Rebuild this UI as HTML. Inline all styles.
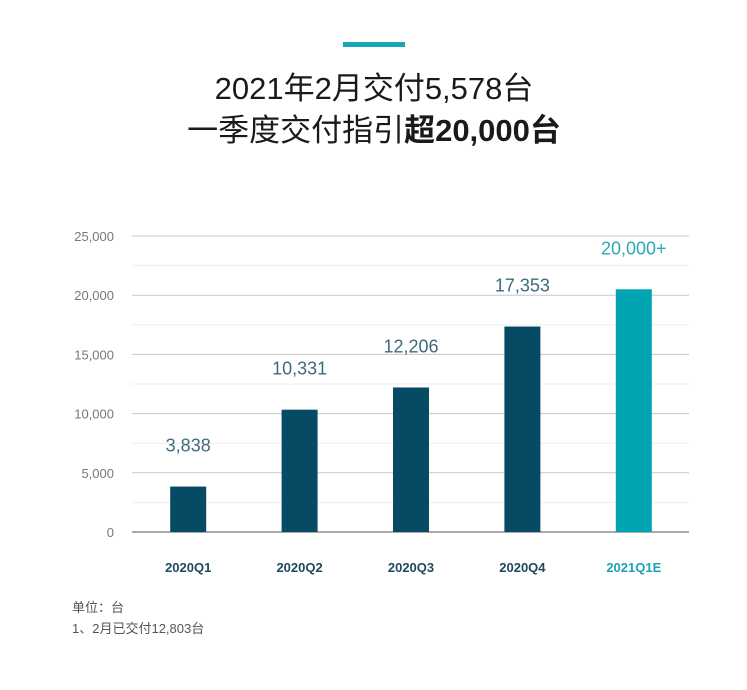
<!DOCTYPE html>
<html><head><meta charset="utf-8">
<style>
html,body{margin:0;padding:0;background:#fff;}
body{width:747px;height:685px;overflow:hidden;font-family:"Liberation Sans","Noto Sans CJK SC",sans-serif;}
</style></head>
<body>
<svg id="chart" width="747" height="685" xmlns="http://www.w3.org/2000/svg">
  <rect x="343" y="42" width="62" height="5" fill="#18a7b5"/>
  <text x="374" y="99" text-anchor="middle" font-size="31" fill="#1a1a1a" font-family="Liberation Sans, Noto Sans CJK SC, sans-serif">2021年2月交付5,578台</text>
  <text x="374" y="141" text-anchor="middle" font-size="31" fill="#1a1a1a" font-family="Liberation Sans, Noto Sans CJK SC, sans-serif">一季度交付指引<tspan font-weight="bold">超20,000台</tspan></text>
  <g id="grid"></g>
  <g id="bars"></g>
  <text x="72" y="612" font-size="13" fill="#555" font-family="Liberation Sans, Noto Sans CJK SC, sans-serif">单位：台</text>
  <text x="72" y="633" font-size="13" fill="#555" font-family="Liberation Sans, Noto Sans CJK SC, sans-serif">1、2月已交付12,803台</text>
</svg>
<script>
const categories = ["2020Q1","2020Q2","2020Q3","2020Q4","2021Q1E"];
const values = [3838, 10331, 12206, 17353, 20500];
const valueLabels = ["3,838","10,331","12,206","17,353","20,000+"];
const yTicks = [0, 5000, 10000, 15000, 20000, 25000];
const yTickLabels = ["0","5,000","10,000","15,000","20,000","25,000"];
const minorTicks = [2500, 7500, 12500, 17500, 22500];

const NS = "http://www.w3.org/2000/svg";
const x0 = 132, x1 = 689, y0 = 532, yMax = 25000, yTop = 236;
const y = v => y0 - (v / yMax) * (y0 - yTop);
const step = (x1 - x0) / categories.length;
const xc = i => x0 + step * (i + 0.5) + 0.5;
function mk(tag, attrs){const e=document.createElementNS(NS,tag);for(const k in attrs)e.setAttribute(k,attrs[k]);return e;}
const grid = document.getElementById('grid');
const bars = document.getElementById('bars');
minorTicks.forEach(t=>{
  const l = mk('line',{x1:x0,x2:x1,y1:y(t),y2:y(t),stroke:'#eeeeee','stroke-width':1});
  
  
  grid.appendChild(l);
});
yTicks.forEach((t,i)=>{
  const l = mk('line',{x1:x0,x2:x1,y1:y(t),y2:y(t),stroke:t===0?'#555':'#c8c8c8','stroke-width':1});
  
  
  grid.appendChild(l);
  const tx = mk('text',{x:114,y:y(t)+5,'text-anchor':'end','font-size':13,fill:'#777'});
  tx.textContent = yTickLabels[i];
  
  
  grid.appendChild(tx);
});
categories.forEach((c,i)=>{
  const last = i===categories.length-1;
  const col = last ? '#00a4b2' : '#064a64';
  const bw = 36;
  const r = mk('rect',{x:xc(i)-bw/2,y:y(values[i]),width:bw,height:y0-y(values[i]),fill:col});
  
  
  bars.appendChild(r);
  const vl = mk('text',{x:xc(i),y:y(values[i])-35,'text-anchor':'middle','font-size':18,fill:last?'#2aa9b5':'#3f6b7c'});
  vl.textContent = valueLabels[i];
  
  
  bars.appendChild(vl);
  const cl = mk('text',{x:xc(i),y:572,'text-anchor':'middle','font-size':13,'font-weight':'bold',fill:last?'#1ba3b3':'#1d4a5e'});
  cl.textContent = c;
  
  
  bars.appendChild(cl);
});
</script>
</body></html>
